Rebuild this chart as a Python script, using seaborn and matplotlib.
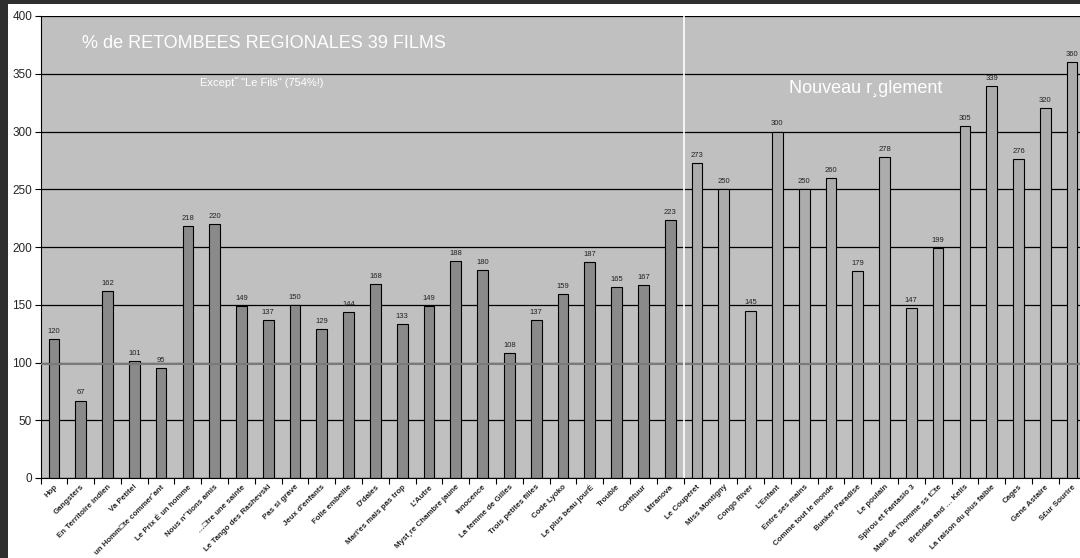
import matplotlib
matplotlib.use("Agg")
import matplotlib.pyplot as plt
import seaborn as sns
import pandas as pd
from matplotlib.patches import Rectangle

# Data
films = [
    "Hop", "Gangsters", "En Territoire indien", "Va Petite!",
    "un Homm\u25a1te commer\u02d8ant", "Le Prix \u00c9 un homme",
    "Nous n'\u02ddtions amis", "\u2026\u25a1tre une sainte",
    "Le Tango des Rashevski", "Pas si grave", "Jeux d'enfants",
    "Folle embellie", "D'dales", "Mari'es mais pas trop", "L'Autre",
    "Myst\u00b8re Chambre jaune", "Innocence", "La femme de Gilles",
    "Trois petites filles", "Code Lyoko", "Le plus beau jour\u00c9",
    "Trouble", "Confituur", "Ultranova", "Le Couperet", "Miss Montigny",
    "Congo River", "L'Enfant", "Entre ses mains", "Comme tout le monde",
    "Bunker Paradise", "Le poulain", "Spirou et Fantasio 3",
    "Main de l'homme ss t\u25a1te", "Brendan and \u2026 Kells",
    "La raison du plus faible", "Cages", "Gene Astaire", "S\u00a3ur Sourire",
]
pct = [120, 67, 162, 101, 95, 218, 220, 149, 137, 150, 129, 144, 168, 133,
       149, 188, 180, 108, 137, 159, 187, 165, 167, 223, 273, 250, 145, 300,
       250, 260, 179, 278, 147, 199, 305, 339, 276, 320, 360]
regime = ["ancien"] * 24 + ["nouveau"] * 15
colors = {"ancien": "#8a8a8a", "nouveau": "#acacac"}

df = pd.DataFrame({"film": films, "pct": pct, "regime": regime})

sns.set_style("ticks")
plt.rcParams["font.family"] = ["Liberation Sans", "DejaVu Sans"]

W, H = 1080, 558
fig = plt.figure(figsize=(W / 100, H / 100), dpi=100)
fig.patch.set_facecolor("#2e2e2e")
# white panel inside the dark frame
fig.patches.append(Rectangle((8 / W, 0), 1, 1 - 4 / H, transform=fig.transFigure,
                             facecolor="white", edgecolor="none", zorder=-10))

ax = fig.add_axes([40.5 / W, 80 / H, 1045 / W, 462 / H])
ax.set_facecolor("#c0c0c0")

sns.barplot(data=df, x="film", y="pct", hue="regime", dodge=False,
            hue_order=["ancien", "nouveau"], palette=colors,
            saturation=1, width=0.4, edgecolor="black", linewidth=0.8,
            legend=False, ax=ax, zorder=2)

# make sure each bar gets the colour of its regime
for p in ax.patches:
    i = int(round(p.get_x() + p.get_width() / 2))
    if 0 <= i < len(regime):
        p.set_facecolor(colors[regime[i]])

for i, v in enumerate(pct):
    ax.annotate(str(v), (i, v), xytext=(0, 3), textcoords="offset points",
                ha="center", va="bottom", fontsize=5.5, color="#222222")

ax.set_xlim(-0.5, len(films) - 0.5)
ax.set_ylim(0, 400)
ax.set_yticks(range(0, 401, 50))
ax.yaxis.grid(True, color="black", linewidth=0.9)
ax.set_axisbelow(True)
ax.axhline(99, color="#7a7a7a", linewidth=1.5, zorder=3)
ax.axvline(23.5, color="white", linewidth=1.2, zorder=3)

ax.set_xticks(range(len(films)))
ax.set_xticklabels(films, rotation=45, ha="right", rotation_mode="anchor",
                   fontsize=5.7, fontweight="bold")
ax.set_xticks([i - 0.5 for i in range(len(films) + 1)], minor=True)
ax.tick_params(axis="x", which="major", length=0, pad=4)
ax.tick_params(axis="x", which="minor", length=4, width=0.8, color="black")
ax.tick_params(axis="y", length=4, width=0.8, color="black", labelsize=8.5, pad=2)

ax.set_xlabel("")
ax.set_ylabel("")
for s in ["top", "right"]:
    ax.spines[s].set_visible(False)
ax.spines["left"].set_color("black")
ax.spines["bottom"].set_color("black")

fig.text(82 / W, 1 - 43 / H, "% de RETOMBEES REGIONALES 39 FILMS",
         color="white", fontsize=13, ha="left", va="center")
fig.text(262 / W, 1 - 83 / H, "Except\u02dd \"Le Fils\" (754%!)",
         color="white", fontsize=8, ha="center", va="center")
fig.text(866 / W, 1 - 88 / H, "Nouveau r\u00b8glement",
         color="white", fontsize=13, ha="center", va="center")

fig.savefig("out.png", dpi=100, facecolor=fig.get_facecolor())
